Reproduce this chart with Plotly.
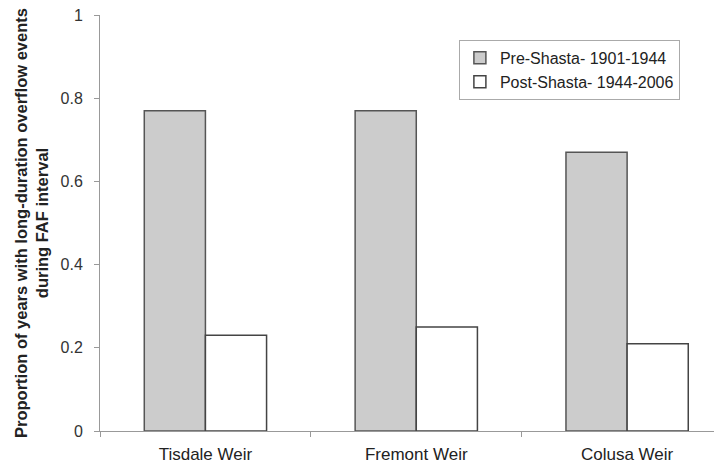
import plotly.graph_objects as go

categories = ["Tisdale Weir", "Fremont Weir", "Colusa Weir"]
pre_shasta = [0.77, 0.77, 0.67]
post_shasta = [0.23, 0.25, 0.21]
series_names = ["Pre-Shasta- 1901-1944", "Post-Shasta- 1944-2006"]
y_ticks = [0, 0.2, 0.4, 0.6, 0.8, 1]
y_title = "Proportion of years with long-duration overflow events<br>during FAF interval"

FONT = "Liberation Sans, Arial, sans-serif"

fig = go.Figure()
fig.add_trace(go.Bar(
    x=categories, y=pre_shasta, name=series_names[0],
    marker=dict(color="#cccccc", line=dict(color="#555555", width=1.5)),
))
fig.add_trace(go.Bar(
    x=categories, y=post_shasta, name=series_names[1],
    marker=dict(color="#ffffff", line=dict(color="#444444", width=1.5)),
))

# page body has an 8px default margin; size the figure to fit the window
fig.update_layout(
    width=714, height=455,
    margin=dict(l=92, r=0, t=7, b=32, autoexpand=False),
    paper_bgcolor="white", plot_bgcolor="white",
    barmode="group", bargap=0.42, bargroupgap=0,
    font=dict(family=FONT, color="#222222"),
    showlegend=True,
    legend=dict(
        x=0.577, y=0.94, xanchor="left", yanchor="top",
        bordercolor="#aaaaaa", borderwidth=1, bgcolor="white",
        font=dict(size=16, family=FONT, color="#222222"),
        tracegroupgap=0, itemwidth=30,
    ),
    xaxis=dict(
        type="category", range=[-0.5, 2.45], automargin=False,
        showline=True, linecolor="#999999", linewidth=1,
        ticks="outside", tickson="boundaries", ticklen=5, tickcolor="#999999",
        ticklabelstandoff=8,
        tickfont=dict(size=17, family=FONT, color="#222222"),
        showgrid=False, zeroline=False,
    ),
    yaxis=dict(
        range=[0, 1], tickvals=y_ticks, ticktext=[f"{v:g}" for v in y_ticks],
        automargin=False, ticklabeloverflow="allow",
        showline=True, linecolor="#999999", linewidth=1,
        ticks="outside", ticklen=5, tickcolor="#999999",
        ticklabelstandoff=8,
        tickfont=dict(size=16, family=FONT, color="#333333"),
        showgrid=False, zeroline=False,
    ),
    annotations=[dict(
        text="<b>" + y_title.replace("<br>", "</b><br><b>") + "</b>",
        xref="paper", yref="paper",
        x=-(100 - 31) / 622, y=0.5, xanchor="center", yanchor="middle",
        textangle=-90, showarrow=False,
        font=dict(size=16.5, family=FONT, color="#222222"),
    )],
)

fig.write_html("out.html")
